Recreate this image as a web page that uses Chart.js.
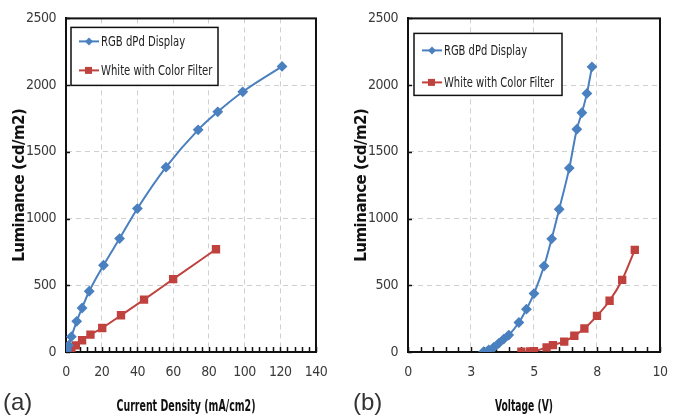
<!DOCTYPE html>
<html>
<head>
<meta charset="utf-8">
<script src="https://cdn.jsdelivr.net/npm/chart.js@4.4.0/dist/chart.umd.min.js"></script>
<style>
  html, body { margin: 0; padding: 0; background: #fff; }
  #wrap { position: relative; width: 680px; height: 419px; overflow: hidden; }
  .panel { position: absolute; top: 0; width: 340px; height: 419px; }
  .tag { position: absolute; top: 388px; font: 24px "Liberation Sans", Arial, sans-serif; color: #333; }
</style>
</head>
<body>
<div id="wrap">
  <div class="panel" style="left:0"><canvas id="chartA" width="340" height="419"></canvas></div>
  <div class="panel" style="left:340px"><canvas id="chartB" width="340" height="419"></canvas></div>
  <div class="tag" style="left:3px">(a)</div>
  <div class="tag" style="left:353px">(b)</div>
</div>
<script>
// ---------- DATA ----------
const seriesNames = ["RGB dPd Display", "White with Color Filter"];

// (a) luminance vs current density
const rgbCurrent = [0, 0.5, 1.5, 3, 6, 9, 13, 21, 30, 40, 56, 74, 85, 99, 121];
const rgbLumA = [0, 15, 50, 115, 230, 330, 455, 650, 850, 1075, 1385, 1665, 1800, 1950, 2140];
const whiteCurrent = [0.3, 1.5, 3, 5.5, 9, 13.7, 20.3, 30.8, 43.7, 60, 84];
const whiteLumA = [3, 12, 25, 50, 88, 130, 180, 275, 393, 546, 770];

// (b) luminance vs voltage
const rgbVoltage = [3.0, 3.2, 3.4, 3.6, 3.8, 4.0, 4.4, 4.7, 5.0, 5.4, 5.7, 6.0, 6.4, 6.7, 6.9, 7.1, 7.3];
const rgbLumB = [2, 15, 35, 65, 97, 127, 221, 321, 438, 644, 848, 1070, 1378, 1669, 1793, 1938, 2137];
const whiteVoltage = [4.5, 4.85, 5.0, 5.5, 5.75, 6.2, 6.6, 7.0, 7.5, 8.0, 8.5, 9.0];
const whiteLumB = [2, 4, 6, 35, 52, 78, 122, 176, 271, 384, 541, 765];

const lumTicks = [0, 500, 1000, 1500, 2000, 2500];
const currentTicks = [0, 20, 40, 60, 80, 100, 120, 140];
const voltageTicks = [0, 2.5, 5, 7.5, 10]; // excel shows them rounded

// ---------- STYLE ----------
const BLUE = "#4a80bf";
const RED = "#c0423f";
const NARROW = "'Liberation Sans Narrow', 'DejaVu Sans Condensed', 'Liberation Sans', Arial, sans-serif";

function pairs(xs, ys) {
  return xs.map((x, i) => ({ x, y: ys[i] }));
}

function makeDatasets(bx, by, wx, wy) {
  return [
    {
      label: seriesNames[0], data: pairs(bx, by),
      borderColor: BLUE, backgroundColor: BLUE, borderWidth: 2,
      pointStyle: "rectRot", pointRadius: 4, pointHoverRadius: 4,
      cubicInterpolationMode: "monotone",
    },
    {
      label: seriesNames[1], data: pairs(wx, wy),
      borderColor: RED, backgroundColor: RED, borderWidth: 2,
      pointStyle: "rect", pointRadius: 4.5, pointHoverRadius: 4.5,
      cubicInterpolationMode: "monotone",
    },
  ];
}

// text squeezed horizontally (the original uses a narrow face)
function squeezedText(ctx, text, x, y, font, sx, align) {
  ctx.save();
  ctx.font = font;
  ctx.textBaseline = "middle";
  ctx.textAlign = align || "left";
  ctx.translate(x, y);
  ctx.scale(sx, 1);
  ctx.fillText(text, 0, 0);
  ctx.restore();
}

// frame, inside tick marks, boxed legend, x title
const framePlugin = {
  id: "frame",
  beforeDraw(chart) {
    chart.ctx.letterSpacing = "-0.5px";
  },
  beforeDatasetsDraw(chart, args, opts) {
    const { ctx, chartArea: a } = chart;
    const xs = chart.scales.x, ys = chart.scales.y;
    ctx.save();
    ctx.strokeStyle = "#111";
    ctx.lineWidth = 1.5;
    ctx.beginPath();
    for (let v = xs.min; v <= xs.max + 1e-9; v += opts.minorStep) {
      const px = Math.round(xs.getPixelForValue(v)) + 0.5;
      ctx.moveTo(px, a.bottom);
      ctx.lineTo(px, a.bottom - 5);
    }
    lumTicks.forEach((v) => {
      const py = Math.round(ys.getPixelForValue(v)) + 0.5;
      ctx.moveTo(a.left, py);
      ctx.lineTo(a.left + 4, py);
    });
    ctx.stroke();
    ctx.lineWidth = 2;
    ctx.strokeRect(a.left, a.top, a.right - a.left, a.bottom - a.top);
    ctx.restore();
  },
  afterDatasetsDraw(chart, args, opts) {
    const { ctx, chartArea: a } = chart;
    const bx = a.left + opts.boxX, by = a.top + opts.boxY;
    ctx.save();
    ctx.letterSpacing = "0px";
    ctx.fillStyle = "#fff";
    ctx.fillRect(bx, by, opts.boxW, opts.boxH);
    ctx.strokeStyle = "#111";
    ctx.lineWidth = 1.5;
    ctx.strokeRect(bx, by, opts.boxW, opts.boxH);
    chart.data.datasets.forEach((ds, i) => {
      const cy = by + opts.row0 + i * opts.rowGap;
      ctx.strokeStyle = ds.borderColor;
      ctx.lineWidth = 2;
      ctx.beginPath();
      ctx.moveTo(bx + 8, cy);
      ctx.lineTo(bx + 28, cy);
      ctx.stroke();
      ctx.fillStyle = ds.borderColor;
      if (ds.pointStyle === "rect") {
        ctx.fillRect(bx + 14, cy - 3.5, 7, 7);
      } else {
        ctx.beginPath();
        ctx.moveTo(bx + 18, cy - 4);
        ctx.lineTo(bx + 22, cy);
        ctx.lineTo(bx + 18, cy + 4);
        ctx.lineTo(bx + 14, cy);
        ctx.closePath();
        ctx.fill();
      }
      ctx.fillStyle = "#222";
      squeezedText(ctx, ds.label, bx + 30, cy + 1, "14px " + NARROW, opts.textSx);
    });

    // x axis title
    ctx.fillStyle = "#111";
    squeezedText(ctx, opts.xTitle, (a.left + a.right) / 2 + opts.xTitleDx, 407,
      "bold 15px " + NARROW, opts.xTitleSx, "center");
    ctx.restore();
  },
};

function makeChart(id, datasets, xCfg, layoutPad, frameOpts) {
  return new Chart(document.getElementById(id), {
    type: "line",
    data: { datasets },
    plugins: [framePlugin],
    options: {
      responsive: false,
      animation: false,
      events: [],
      layout: { padding: layoutPad },
      plugins: {
        legend: { display: false },
        tooltip: { enabled: false },
        frame: Object.assign({ minorStep: xCfg.minor }, frameOpts),
      },
      scales: {
        x: {
          type: "linear",
          min: xCfg.min, max: xCfg.max,
          afterFit: (s) => { s.height = 67; },
          afterBuildTicks: (s) => { s.ticks = xCfg.ticks.map((v) => ({ value: v })); },
          ticks: {
            color: "#3a3a3a", padding: 12,
            font: { family: NARROW, size: 14 },
            callback: (v) => String(Math.round(v)),
            maxRotation: 0, autoSkip: false,
          },
          grid: { drawTicks: false, color: "#cfcfcf", lineWidth: 1 },
          border: { display: true, color: "#111", width: 2, dash: [5, 4] },
          title: { display: false },
        },
        y: {
          type: "linear",
          min: 0, max: 2500,
          afterFit: (s) => { s.width = 66; },
          afterBuildTicks: (s) => { s.ticks = lumTicks.map((v) => ({ value: v })); },
          ticks: {
            color: "#3a3a3a", padding: 10,
            font: { family: NARROW, size: 14 },
            callback: (v) => String(v),
          },
          grid: { drawTicks: false, color: "#cfcfcf", lineWidth: 1 },
          border: { display: true, color: "#111", width: 2, dash: [5, 4] },
          title: {
            display: true, text: "Luminance (cd/m2)", color: "#111",
            font: { family: "'DejaVu Sans', sans-serif", size: 15, weight: "bold" },
            padding: { top: 11, bottom: 0 },
          },
        },
      },
    },
  });
}

const chartA = makeChart(
  "chartA",
  makeDatasets(rgbCurrent, rgbLumA, whiteCurrent, whiteLumA),
  { min: 0, max: 140, ticks: currentTicks, minor: 4 },
  { top: 15, right: 21, left: 0, bottom: 0 },
  {
    boxX: 5, boxY: 9, boxW: 147, boxH: 58, row0: 14, rowGap: 29, textSx: 0.8,
    xTitle: "Current Density (mA/cm2)", xTitleDx: -5, xTitleSx: 0.7,
  }
);

const chartB = makeChart(
  "chartB",
  makeDatasets(rgbVoltage, rgbLumB, whiteVoltage, whiteLumB),
  { min: 0, max: 10, ticks: voltageTicks, minor: 0.5 },
  { top: 18, right: 17, left: 2, bottom: 0 },
  {
    boxX: 6, boxY: 15, boxW: 148, boxH: 62, row0: 17, rowGap: 32, textSx: 0.79,
    xTitle: "Voltage (V)", xTitleDx: -10, xTitleSx: 0.68,
  }
);
</script>
</body>
</html>
